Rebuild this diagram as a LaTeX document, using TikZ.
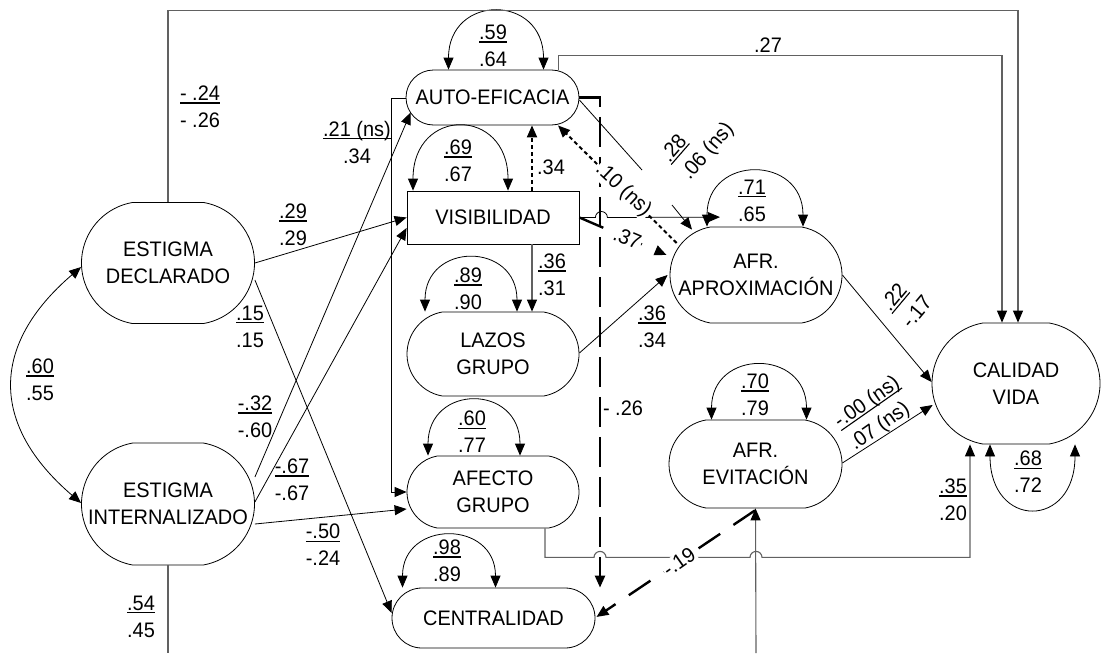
\documentclass[tikz,border=0pt]{standalone}
\usepackage{fontspec}
\setmainfont{Liberation Sans}[FakeStretch=0.95]
\usetikzlibrary{shapes.misc,arrows.meta}
% underlined coefficient (first value of a pair)
\newcommand\ulx[1]{\setbox0\hbox{#1}\rlap{\rule[-2.8pt]{\wd0}{1.1pt}}\box0}
\begin{document}
\begin{tikzpicture}[x=1pt,y=-1pt,
  font=\fontsize{21}{27}\selectfont,
  var/.style={draw, line width=0.8pt, rounded rectangle, rounded rectangle arc length=160,
              align=center, inner sep=0pt},
  arr/.style={-{Triangle[length=12pt,width=10pt,color=black]}},
  dbl/.style={{Triangle[length=12pt,width=10pt]}-{Triangle[length=12pt,width=10pt]}},
  thin/.style={line width=0.8pt},
  grey/.style={line width=1.1pt, draw=black!62},
  longdash/.style={line width=2.4pt, dash pattern=on 30pt off 10pt},
  middash/.style={line width=2.4pt, dash pattern=on 26pt off 16pt},
  dotdash/.style={line width=2pt, dash pattern=on 4pt off 3pt},
  lbl/.style={align=center, inner sep=1pt},
  cover/.style={fill=white, inner sep=1pt}]
\useasboundingbox (0,0) rectangle (1102,653);

% ---------- variables ----------
\node[var, minimum width=173pt, minimum height=121pt] (ed) at (168,263) {ESTIGMA\\DECLARADO};
\node[var, minimum width=173pt, minimum height=122pt] (ei) at (168,504) {ESTIGMA\\INTERNALIZADO};
\node[var, rounded rectangle arc length=180, minimum width=173pt, minimum height=55pt] (ae) at (492.5,97.5) {AUTO-EFICACIA};
\node[draw, line width=0.8pt, minimum width=172pt, minimum height=53pt, inner sep=0pt] (vis) at (493,217.5) {VISIBILIDAD};
\node[var, minimum width=172pt, minimum height=84pt] (lazos) at (493,354) {LAZOS\\GRUPO};
\node[var, minimum width=172pt, minimum height=72pt] (afecto) at (493,492) {AFECTO\\GRUPO};
\node[var, rounded rectangle arc length=180, minimum width=203pt, minimum height=60pt] (cen) at (493.5,618) {CENTRALIDAD};
\node[var, minimum width=172pt, minimum height=96pt] (aprox) at (756,275) {AFR.\\APROXIMACIÓN};
\node[var, minimum width=173pt, minimum height=88pt] (evit) at (755.5,464) {AFR.\\EVITACIÓN};
\node[var, minimum width=168pt, minimum height=121pt] (cv) at (1016,383.5) {CALIDAD\\VIDA};

% free ends leaving the lower edge
\coordinate (eiout) at (168,653);
\coordinate (evin) at (756,653);
% break in the AUTO-EFICACIA -> AFR. APROXIMACION path
\coordinate (gapA) at (642,170);
\coordinate (gapB) at (672,205);

% ---------- self loops (residuals) ----------
\draw[thin,dbl] ([xshift=-44pt]ae.north) .. controls +(0,-76) and +(0,-76) .. ([xshift=51pt]ae.north);
\draw[thin,dbl] ([xshift=-80pt]vis.north) .. controls +(0,-84) and +(0,-84) .. ([xshift=15pt]vis.north);
\draw[thin,dbl] ([xshift=-68pt]lazos.north) .. controls +(0,-70) and +(0,-70) .. ([xshift=24pt]lazos.north);
\draw[thin,dbl] ([xshift=-65pt]afecto.north) .. controls +(0,-72) and +(0,-72) .. ([xshift=27pt]afecto.north);
\draw[thin,dbl] ([xshift=-91pt]cen.north) .. controls +(0,-68) and +(0,-68) .. ([xshift=2pt]cen.north);
\draw[thin,dbl] ([xshift=-49pt]aprox.north) .. controls +(0,-72) and +(0,-72) .. ([xshift=47pt]aprox.north);
\draw[thin,dbl] ([xshift=-44pt]evit.north) .. controls +(0,-71) and +(0,-71) .. ([xshift=51pt]evit.north);
\draw[thin,dbl] ([xshift=-26pt]cv.south) .. controls +(0,85) and +(0,85) .. ([xshift=59pt]cv.south);

% ---------- paths ----------
% correlation of the two stigma measures
\draw[thin,dbl] ([yshift=-4pt]ed.west) .. controls (-10,345) and (-10,425) .. ([yshift=1pt]ei.west);
% long paths round the top
\draw[grey,arr] (ed.north) -- ++(0,-192) -| ([xshift=2pt]cv.north);
\draw[grey,arr] ([xshift=66pt]ae.north) -- ++(0,-14) -| ([xshift=-14pt]cv.north);
% from ESTIGMA DECLARADO
\draw[thin,arr] (ed.east) -- (vis.west);
\draw[thin,arr] ([yshift=-17pt]ed.east) -- ([yshift=5pt]cen.west);
% from ESTIGMA INTERNALIZADO
\draw[thin,arr] ([yshift=27pt]ei.east) -- ([xshift=5pt,yshift=-15pt]ae.west);
\draw[thin,arr] ([yshift=2pt]ei.east) -- ([yshift=-10.5pt]vis.west);
\draw[thin,arr] ([yshift=-20pt]ei.east) -- ([yshift=-17pt]afecto.west);
\draw[grey] (ei.south) -- (eiout);
\draw[grey,arr] (evin) -- (evit.south);
% AUTO-EFICACIA -> AFECTO GRUPO
\draw[thin,arr] ([yshift=-0.5pt]ae.west) -- ++(-14,0) |- (afecto.west);
% AUTO-EFICACIA -> CENTRALIDAD
\draw[longdash,arr] (ae.east) -| ([xshift=106.5pt]cen.north);
% AUTO-EFICACIA -> AFR. APROXIMACION
\draw[thin] ([yshift=-2.5pt]ae.east) -- (gapA);
\draw[thin,arr] (gapB) -- ([xshift=-64pt,yshift=-3pt]aprox.north);
% VISIBILIDAD
\draw[dotdash,arr] ([xshift=39pt]vis.north) -- ([xshift=39.5pt]ae.south);
\draw[grey,arr] ([xshift=39pt]vis.south) -- ([xshift=39pt]lazos.north);
\draw[thin,arr] (vis.east) -- ++(16,0) arc[start angle=180,end angle=0,radius=6pt]
  -- ([xshift=-36pt,yshift=9.5pt]aprox.north);
\draw[middash,arr] (vis.east) -- ([xshift=-3pt,yshift=20pt]aprox.west)
  node[cover, pos=0.55, rotate=-23] {.37};
% AFR. APROXIMACION -> AUTO-EFICACIA
\draw[dotdash,arr] ([xshift=7pt,yshift=32pt]aprox.west) -- ([xshift=65.5pt]ae.south)
  node[cover, pos=0.45, rotate=-43] {.10 (ns)};
% LAZOS GRUPO -> AFR. APROXIMACION
\draw[thin,arr] ([yshift=1pt]lazos.east) -- ([xshift=-2pt]aprox.west);
% AFECTO GRUPO -> CALIDAD VIDA, hopping over two crossings
\draw[grey,arr] ([xshift=52pt]afecto.south) -- ++(0,29) -- ++(49,0)
  arc[start angle=180,end angle=0,radius=6pt] -- ++(144,0)
  arc[start angle=180,end angle=0,radius=6pt] -| ([xshift=-46pt]cv.south);
% AFR. EVITACION -> CENTRALIDAD
\draw[middash,arr] ([xshift=-0.5pt,yshift=-2pt]evit.south) -- ([xshift=1pt,yshift=1pt]cen.east)
  node[cover, pos=0.48, rotate=35] {-.19};
% into CALIDAD VIDA
\draw[thin,arr] ([yshift=1pt]evit.east) -- ([xshift=1pt,yshift=-21.5pt]cv.west);
\draw[thin,arr] (aprox.east) -- ([yshift=1.5pt]cv.west);

% ---------- coefficients ----------
\node[lbl] (l1) at (200,107) {\ulx{- .24}\\- .26};
\node[lbl] (l2) at (357,142) {\ulx{.21 (ns)}\\.34};
\node[lbl] (l3) at (293,225) {\ulx{.29}\\.29};
\node[lbl] (l4) at (250,327) {\ulx{.15}\\.15};
\node[lbl] (l5) at (255,417) {\ulx{-.32}\\-.60};
\node[lbl] (l6) at (292,480) {\ulx{-.67}\\-.67};
\node[lbl] (l7) at (323,545) {\ulx{-.50}\\-.24};
\node[lbl] (l8) at (141,617) {\ulx{.54}\\.45};
\node[lbl] (l9) at (40,380) {\ulx{.60}\\.55};
\node[lbl] (l10) at (493,46) {\ulx{.59}\\.64};
\node[lbl] (l11) at (768,45) {.27};
\node[lbl] (l12) at (458,161) {\ulx{.69}\\.67};
\node[lbl] (l13) at (551,167) {.34};
\node[lbl, align=left, rotate=49] (l14) at (698,143) {\ulx{.28}\\.06 (ns)};
\node[lbl] (l15) at (552,275) {\ulx{.36}\\.31};
\node[lbl] (l16) at (752,201) {\ulx{.71}\\.65};
\node[lbl] (l17) at (468,289) {\ulx{.89}\\.90};
\node[lbl] (l18) at (652,327) {\ulx{.36}\\.34};
\node[lbl] (l19) at (472,432) {\ulx{.60}\\.77};
\node[lbl] (l20) at (623,408) {- .26};
\node[lbl] (l21) at (755,395) {\ulx{.70}\\.79};
\node[lbl, align=left, rotate=35] (l22) at (875,414) {\ulx{-.00 (ns)}\\.07 (ns)};
\node[lbl, align=left, rotate=50] (l23) at (906,303) {\ulx{.22}\\-.17};
\node[lbl] (l24) at (1028,472) {\ulx{.68}\\.72};
\node[lbl] (l25) at (953,500) {\ulx{.35}\\.20};
\node[lbl] (l26) at (447,561) {\ulx{.98}\\.89};
\end{tikzpicture}
\end{document}
